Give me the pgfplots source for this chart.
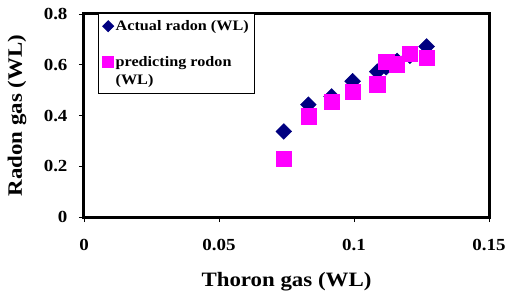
\documentclass[border=0pt]{standalone}
\usepackage{fontspec}
\setmainfont{Liberation Serif}[FakeStretch=1.12]
\usepackage{pgfplots}
\pgfplotsset{compat=1.18}
\definecolor{navyd}{RGB}{0,0,128}
\definecolor{magp}{RGB}{255,0,255}
\begin{document}
\begin{tikzpicture}
\useasboundingbox (-84bp,-79bp) rectangle (424bp,217bp);
\begin{axis}[
  scale only axis,
  width=405bp, height=203bp,
  at={(0,0)}, anchor=south west,
  xmin=0, xmax=0.15, ymin=0, ymax=0.8,
  xtick={0,0.05,0.1,0.15},
  ytick={0,0.2,0.4,0.6,0.8},
  xticklabels={0,0.05,0.1,0.15},
  yticklabels={0,0.2,0.4,0.6,0.8},
  tick align=outside,
  xtick pos=bottom, ytick pos=left,
  major tick length=5bp,
  tick style={black, line width=0.8pt},
  axis line style={line width=3bp},
  xticklabel style={font=\fontsize{17}{17}\selectfont\bfseries, yshift=-14bp},
  yticklabel style={font=\fontsize{17}{17}\selectfont\bfseries, xshift=-8bp},
  xlabel={Thoron gas (WL)},
  ylabel={Radon gas (WL)},
  xlabel style={font=\fontsize{20.5}{20}\selectfont\bfseries, at={(0.5,0)}, anchor=center, yshift=-65bp},
  ylabel style={font=\fontsize{20.5}{20}\selectfont\bfseries, at={(0,0.5)}, anchor=center, yshift=67bp},
  legend style={at={(0.035,1.005)}, anchor=north west, draw=black, line width=1bp, fill=white,
    font=\fontsize{14.5}{19}\selectfont\bfseries, row sep=20bp, inner xsep=4bp, inner ysep=5bp,
    cells={align=left}},
  legend cell align=left,
  legend image code/.code={\draw[#1] plot coordinates {(5bp,0bp)};},
  clip=false,
]
\addplot[only marks, mark=square*, mark size=5.6bp, color=navyd, mark options={rotate=45, draw=navyd, fill=navyd},
  legend image post style={mark size=3.8bp}]
  coordinates {
  (0.0740,0.337) (0.0831,0.443) (0.0917,0.475) (0.0995,0.535) (0.1086,0.573)
  (0.1119,0.590) (0.1160,0.615) (0.1207,0.635) (0.1269,0.672)
  };
\addlegendentry{Actual radon (WL)}
\addplot[only marks, mark=square*, mark size=7.6bp, color=magp, mark options={draw=magp, fill=magp},
  legend image post style={mark size=5.5bp, yshift=9bp}]
  coordinates {
  (0.0740,0.231) (0.0831,0.397) (0.0917,0.453) (0.0995,0.494) (0.1086,0.523)
  (0.1119,0.611) (0.1158,0.602) (0.1207,0.643) (0.1269,0.627)
  };
\addlegendentry{predicting rodon\\(WL)}
\end{axis}
\end{tikzpicture}
\end{document}
